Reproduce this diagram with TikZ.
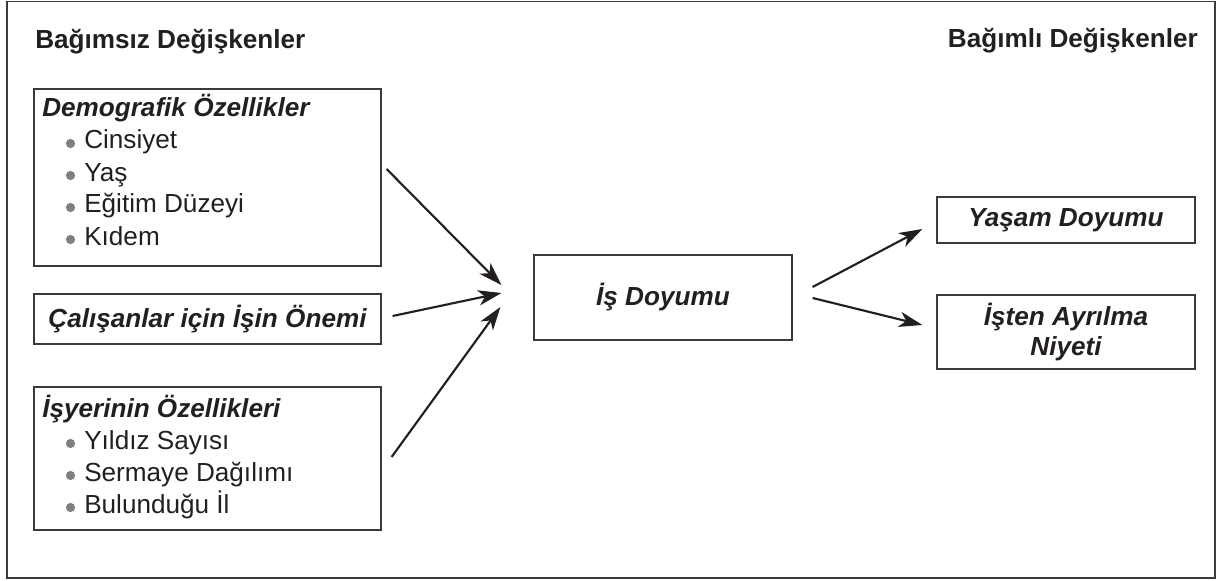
\documentclass[tikz,border=0pt]{standalone}
\usepackage{fontspec}
\setmainfont{Liberation Sans}
\usetikzlibrary{arrows.meta,calc,fit}

\definecolor{ink}{HTML}{231F20}
\definecolor{edgegray}{HTML}{3A3A3A}
\definecolor{dotgray}{HTML}{7F7F7F}
\newcommand{\sz}{\fontsize{19.6pt}{22.5pt}\selectfont}

\tikzset{
  box/.style={draw=edgegray, line width=0.9pt, inner sep=0pt, text=ink, font=\sz\bfseries\itshape, align=center},
  head/.style={text=ink, font=\sz\bfseries\itshape, inner sep=0pt},
  item/.style={text=ink, font=\sz, inner sep=0pt},
  title/.style={text=ink, font=\sz\bfseries, inner sep=0pt},
  arr/.style={-{Stealth[length=17.5pt,width=11.5pt,inset=5pt]}, line width=1.6pt, draw=ink},
}

\begin{document}
\begin{tikzpicture}[x=0.75pt, y=-0.75pt]
    \useasboundingbox (0,0) rectangle (1217,581);

    % Outer frame
    \draw[edgegray, line width=1.1pt] (7,1.5) rectangle (1215,578);

    % Titles
    \node[title, anchor=base west] (indep) at (35,49) {Bağımsız Değişkenler};
    \node[title, anchor=base east] (dep) at (1198,48) {Bağımlı Değişkenler};

    % Demographic box
    \node[box, fit={(34,89) (381,266)}] (demo) {};
    \node[head, anchor=base west] (demohead) at (42,117) {Demografik Özellikler};
    \foreach \txt [count=\i] in {Cinsiyet, Yaş, Eğitim Düzeyi, Kıdem} {
        \node[item, anchor=base west] (demo-\i) at (84,117+32*\i) {\txt};
        \fill[dotgray] (70.5,111.5+32*\i) circle (4.6);
    }

    % Importance of work
    \node[box, minimum width=260.25pt, minimum height=37.5pt] (onem) at (207.5,319) {Çalışanlar için İşin Önemi};

    % Workplace box
    \node[box, fit={(34,387) (381,530)}] (isyeri) {};
    \node[head, anchor=base west] (isyerihead) at (42,417) {İşyerinin Özellikleri};
    \foreach \txt [count=\i] in {Yıldız Sayısı, Sermaye Dağılımı, Bulunduğu İl} {
        \node[item, anchor=base west] (isyeri-\i) at (84,417+32*\i) {\txt};
        \fill[dotgray] (70.5,411.5+32*\i) circle (4.6);
    }

    % Job satisfaction
    \node[box, minimum width=193.5pt, minimum height=63.75pt] (isdoyum) at (663,297.5) {İş Doyumu};

    % Outcomes
    \node[box, minimum width=193.5pt, minimum height=34.5pt] (yasam) at (1066,220) {Yaşam Doyumu};
    \node[box, minimum width=193.5pt, minimum height=55.5pt] (ayrilma) at (1066,332) {İşten Ayrılma\\Niyeti};

    % Arrow ends
    \coordinate (demo-out) at ($(demo.east)+(5,-8.5)$);
    \coordinate (onem-out) at ($(onem.east)+(11,-3)$);
    \coordinate (isyeri-out) at ($(isyeri.east)+(10,-1.5)$);
    \coordinate (in-a) at ($(isdoyum.west)+(-32,-12.5)$);
    \coordinate (in-b) at ($(isdoyum.west)+(-32,-4.5)$);
    \coordinate (in-c) at ($(isdoyum.west)+(-33,9.5)$);
    \coordinate (out-a) at ($(isdoyum.east)+(20,-10.5)$);
    \coordinate (out-b) at ($(isdoyum.east)+(20,0.5)$);
    \coordinate (yasam-in) at ($(yasam.west)+(-14,9)$);
    \coordinate (ayrilma-in) at ($(ayrilma.west)+(-14,-7)$);

    % Arrows
    \draw[arr] (demo-out) -- (in-a);
    \draw[arr] (onem-out) -- (in-b);
    \draw[arr] (isyeri-out) -- (in-c);
    \draw[arr] (out-a) -- (yasam-in);
    \draw[arr] (out-b) -- (ayrilma-in);
\end{tikzpicture}
\end{document}
